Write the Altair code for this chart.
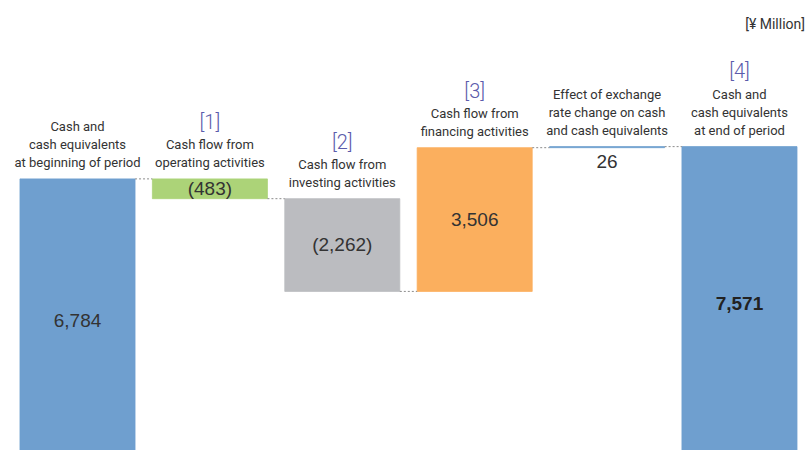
import altair as alt
import pandas as pd

# ---- data ----
keys = ["c0", "c1", "c2", "c3", "c4", "c5"]
labels = [
    "Cash and\ncash equivalents\nat beginning of period",
    "Cash flow from\noperating activities",
    "Cash flow from\ninvesting activities",
    "Cash flow from\nfinancing activities",
    "Effect of exchange\nrate change on cash\nand cash equivalents",
    "Cash and\ncash equivalents\nat end of period",
]
brackets = ["", "[1]", "[2]", "[3]", "", "[4]"]
values = [6784, -483, -2262, 3506, 26, 7571]
is_total = [True, False, False, False, False, True]
value_text = ["6,784", "(483)", "(2,262)", "3,506", "26", "7,571"]
bar_colors = ["#6f9fcf", "#acd378", "#bbbcc0", "#fbaf5e", "#6f9fcf", "#6f9fcf"]
unit_label = "[¥ Million]"

# ---- build waterfall table ----
rows = []
running = 0
for k, lab, br, v, tot, vt in zip(keys, labels, brackets, values, is_total, value_text):
    if tot:
        start, end = 0, v
    else:
        start, end = running, running + v
    running = end
    rows.append(dict(key=k, label=lab, bracket=br, start=start, end=end,
                     top=max(start, end), mid=(start + end) / 2, text=vt,
                     nlines=lab.count("\n") + 1))
df = pd.DataFrame(rows)

conn = pd.DataFrame({
    "src": keys[:-1],
    "dst": keys[1:],
    "level": [r["end"] for r in rows[:-1]],
})

FONT_N = "Roboto"
FONT = "Liberation Sans"
TXT = "#333333"

xscale = alt.Scale(domain=keys, paddingInner=0.131, paddingOuter=0.117, align=0.645)
yscale = alt.Scale(domain=[171, 11147], zero=False, nice=False)

base = alt.Chart(df)
X = alt.X("key:N", scale=xscale, axis=None)
Ytop = alt.Y("top:Q", scale=yscale)

bars = base.mark_bar(clip=True, strokeWidth=0.8).encode(
    x=X,
    y=alt.Y("start:Q", scale=yscale, axis=None),
    y2="end:Q",
    color=alt.Color("key:N", scale=alt.Scale(domain=keys, range=bar_colors), legend=None),
    stroke=alt.Color("key:N", scale=alt.Scale(domain=keys, range=bar_colors), legend=None),
)

connectors = alt.Chart(conn).mark_rule(strokeDash=[2, 2], color="#8c8c8c", strokeWidth=1).encode(
    x=alt.X("src:N", bandPosition=1, scale=xscale, axis=None),
    x2=alt.X2("dst:N", bandPosition=0),
    y=alt.Y("level:Q", scale=yscale, axis=None),
)

lab_style = dict(font=FONT_N, fontSize=13, color=TXT, baseline="bottom",
                 lineBreak="\n", lineHeight=18)
lab2 = base.transform_filter("datum.nlines == 2").mark_text(dy=-27, **lab_style).encode(
    x=X, y=Ytop, text="label:N")
lab3 = base.transform_filter("datum.nlines == 3").mark_text(dy=-45, **lab_style).encode(
    x=X, y=Ytop, text="label:N")

br_style = dict(font=FONT_N, fontSize=20, fontWeight=300, color="#5b5bab", baseline="middle")
br2 = base.transform_filter("datum.nlines == 2 && datum.bracket != ''").mark_text(
    dy=-56, **br_style).encode(x=X, y=Ytop, text="bracket:N")
br3 = base.transform_filter("datum.nlines == 3 && datum.bracket != ''").mark_text(
    dy=-75, **br_style).encode(x=X, y=Ytop, text="bracket:N")

val_style = dict(font=FONT, fontSize=19, color=TXT, baseline="middle")
val_in = base.transform_filter(alt.FieldOneOfPredicate(field="key", oneOf=["c1", "c2", "c3"])).mark_text(
    **val_style).encode(x=X, y=alt.Y("mid:Q", scale=yscale), text="text:N")
val_first = base.transform_filter(alt.FieldEqualPredicate(field="key", equal="c0")).mark_text(
    dy=3, **val_style).encode(x=X, y=alt.Y("mid:Q", scale=yscale), text="text:N")
val_below = base.transform_filter(alt.FieldEqualPredicate(field="key", equal="c4")).mark_text(
    dy=15, **val_style).encode(x=X, y=alt.Y("end:Q", scale=yscale), text="text:N")
val_bold = base.transform_filter(alt.FieldEqualPredicate(field="key", equal="c5")).mark_text(
    font=FONT, fontSize=19, fontWeight="bold", color="#222222", baseline="middle", dy=2).encode(
    x=X, y=alt.Y("mid:Q", scale=yscale), text="text:N")

unit = alt.Chart(pd.DataFrame({"t": [unit_label]})).mark_text(
    font=FONT_N, fontSize=14, color=TXT, align="right", baseline="middle").encode(
    x=alt.value(805), y=alt.value(25), text="t:N")

chart = alt.layer(bars, connectors, lab2, lab3, br2, br3, val_in, val_first, val_below, val_bold, unit).properties(
    width=808, height=450, padding=0, autosize=alt.AutoSizeParams(type="none"),
).configure_view(stroke=None)

chart.save("out.html", embed_options={"renderer": "svg", "actions": False})
